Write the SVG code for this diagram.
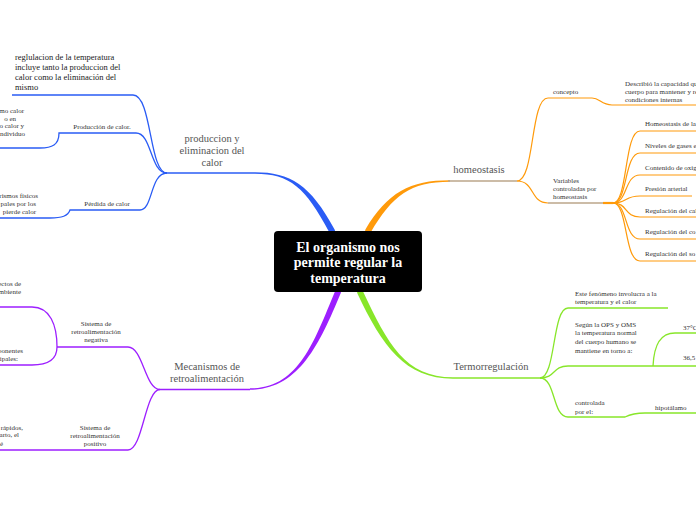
<svg xmlns="http://www.w3.org/2000/svg" width="696" height="520" viewBox="0 0 696 520">
<style>
.t{font-family:"Liberation Serif","Times New Roman",serif;font-size:7px;fill:#333}
.big{font-family:"Liberation Serif","Times New Roman",serif;font-size:10.5px;fill:#555;text-anchor:middle}
.top{font-family:"Liberation Serif","Times New Roman",serif;font-size:8.5px;fill:#222}
.title{font-family:"Liberation Serif","Times New Roman",serif;font-size:14px;font-weight:bold;fill:#fff;text-anchor:middle}
.m{text-anchor:middle}
.e{text-anchor:end}
.b{fill:none;stroke:#2a5cf5;stroke-width:1.3}
.o{fill:none;stroke:#ff9a0a;stroke-width:1.2}
.p{fill:none;stroke:#9d1fff;stroke-width:1.3}
.g{fill:none;stroke:#88e62a;stroke-width:1.3}
.tan{fill:none;stroke:#bba68a;stroke-width:1.4}
</style>
<g id="connectors">
<!-- main tapered branches -->
<path d="M338 240 L334.6 229.6 C310.6 184.6 290 172.25 255 172.25 L255 173.75 C290 173.75 305.4 187.4 329.4 232.4 L332 240 Z" fill="#2a5cf5"/>
<path d="M372 240 L370.6 232.5 C392.6 195.5 410 181.75 450 181.75 L450 180.25 C410 180.25 387.4 192.5 365.4 229.5 L363 240 Z" fill="#ff9a0a"/>
<path d="M342 284 L340.8 293.1 C318.8 346.1 298 389.75 250 389.75 L250 388.25 C298 388.25 313.2 343.9 335.2 290.9 L336 284 Z" fill="#9d1fff"/>
<path d="M362 284 L362.7 290.7 C387.7 343.7 405 377.25 453 377.25 L453 378.75 C405 378.75 382.3 346.3 357.3 293.3 L356 284 Z" fill="#88e62a"/>
<!-- blue -->
<path class="b" d="M255 173 L167 173"/>
<path class="b" d="M167 173 C149 173 152 95 133 95 L12 95"/>
<path class="b" d="M167 173 C150 173 152 133 136 133 L59 133 C59 145 52 148 40 148 L0 148"/>
<path class="b" d="M167 173 C150 173 153 210 140 210 L70 210 C68 216 62 218 50 218 L0 218"/>
<!-- purple -->
<path class="p" d="M250 389.5 L160 389.5"/>
<path class="p" d="M160 389.5 C145 389.5 143 347 128 347 L57 347"/>
<path class="p" d="M57 347 C57 325 50 307 32 307 L0 307"/>
<path class="p" d="M57 347 C57 358 50 365 32 365 L0 365"/>
<path class="p" d="M160 389.5 C145 389.5 143 450 128 450 L0 450"/>
<!-- orange -->
<path class="tan" d="M448 181 L517 181"/>
<path class="o" d="M517 181 C535 181 530 98 548 98 L592 98 C600 98 601 105 612 105 L696 105"/>
<path class="o" d="M517 181 C535 181 530 203 548 203"/>
<path class="tan" d="M548 203 L603 203"/>
<path d="M603 203 L613 203" stroke="#ff9a0a" stroke-width="2.2"/>
<path class="o" d="M613 203 C628 203 624 131 640 131 L696 131"/>
<path class="o" d="M613 203 C628 203 624 153 640 153 L696 153"/>
<path class="o" d="M613 203 C628 203 624 175 640 175 L696 175"/>
<path class="o" d="M613 203 C628 203 624 196 640 196 L692 196"/>
<path class="o" d="M613 203 C628 203 624 217 640 217 L696 217"/>
<path class="o" d="M613 203 C628 203 624 239 640 239 L696 239"/>
<path class="o" d="M613 203 C628 203 624 261 640 261 L696 261"/>
<!-- green -->
<path class="g" d="M453 378 L540 378"/>
<path class="g" d="M540 378 C556 378 552 308 568 308 L668 308"/>
<path class="g" d="M540 378 C556 378 552 366 568 366 L696 366"/>
<path class="g" d="M653 366 C654 345 660 333 675 333 L696 333"/>
<path class="g" d="M540 378 C556 378 552 417 568 417 L625 417 C631 414 636 413 645 413 L696 413"/>
</g>
<g id="center">
<rect x="274" y="231" width="148" height="61" rx="4" fill="#000"/>
<text class="title" x="348" y="251.5">El organismo nos</text>
<text class="title" x="348" y="267">permite regular la</text>
<text class="title" x="348" y="282.5">temperatura</text>
</g>
<g id="produccion">
<text class="big" x="212" y="142">produccion y</text>
<text class="big" x="212" y="154">eliminacion del</text>
<text class="big" x="212" y="166">calor</text>
</g>
<g id="reglulacion">
<text class="top" x="15" y="60">reglulacion de la temperatura</text>
<text class="top" x="15" y="70">incluye tanto la produccion del</text>
<text class="top" x="15" y="80">calor como la eliminación del</text>
<text class="top" x="15" y="90">mismo</text>
</g>
<g id="produccion-calor">
<text class="t m" x="102" y="128.5">Producción de calor.</text>
</g>
<g id="produccion-calor-detalle">
<text class="t e" x="24" y="112.5">mo calor</text>
<text class="t e" x="16" y="120.5">o en</text>
<text class="t e" x="24" y="128">o calor y</text>
<text class="t e" x="25" y="135.5">ndividuo</text>
</g>
<g id="perdida-calor">
<text class="t m" x="107" y="205.5">Pérdida de calor</text>
</g>
<g id="perdida-calor-detalle">
<text class="t e" x="38" y="197.5">rismos físicos</text>
<text class="t e" x="36" y="205.5">pales por los</text>
<text class="t e" x="36" y="213.5">pierde calor</text>
</g>
<g id="mecanismos">
<text class="big" x="207" y="370">Mecanismos de</text>
<text class="big" x="207" y="382">retroalimentación</text>
</g>
<g id="negativa">
<text class="t m" x="96" y="325.5">Sistema de</text>
<text class="t m" x="96" y="333.5">retroalimentación</text>
<text class="t m" x="96" y="341.5">negativa</text>
</g>
<g id="negativa-1">
<text class="t e" x="21" y="285.5">ectos de</text>
<text class="t e" x="21" y="293.5">mbiente</text>
</g>
<g id="negativa-2">
<text class="t e" x="23" y="352.5">ponentes</text>
<text class="t e" x="18" y="360.5">ipales:</text>
</g>
<g id="positivo">
<text class="t m" x="95" y="429.5">Sistema de</text>
<text class="t m" x="95" y="437.5">retroalimentación</text>
<text class="t m" x="95" y="445.5">positivo</text>
</g>
<g id="positivo-1">
<text class="t e" x="23" y="429.5">rápidos,</text>
<text class="t e" x="19" y="437">arto, el</text>
<text class="t e" x="3" y="445.5">é</text>
</g>
<g id="homeostasis">
<text class="big" x="479" y="173">homeostasis</text>
</g>
<g id="concepto">
<text class="t" x="553" y="93.5">concepto</text>
</g>
<g id="describio">
<text class="t" x="625" y="85.5">Describió la capacidad que</text>
<text class="t" x="625" y="93.5">cuerpo para mantener y re</text>
<text class="t" x="625" y="101.5">condiciones internas</text>
</g>
<g id="variables">
<text class="t" x="553" y="182.5">Variables</text>
<text class="t" x="553" y="190.5">controladas por</text>
<text class="t" x="553" y="199">homeostasis</text>
</g>
<g id="v1"><text class="t" x="645" y="125.5">Homeostasis de la</text></g>
<g id="v2"><text class="t" x="645" y="148">Niveles de gases e</text></g>
<g id="v3"><text class="t" x="645" y="169.5">Contenido de oxig</text></g>
<g id="v4"><text class="t" x="645" y="191">Presión arterial</text></g>
<g id="v5"><text class="t" x="645" y="212.5">Regulación del cal</text></g>
<g id="v6"><text class="t" x="645" y="234">Regulación del co</text></g>
<g id="v7"><text class="t" x="645" y="256">Regulación del so</text></g>
<g id="termorregulacion">
<text class="big" x="491" y="370">Termorregulación</text>
</g>
<g id="fenomeno">
<text class="t" x="575" y="295.5">Este fenómeno involucra a la</text>
<text class="t" x="575" y="303.5">temperatura y el calor</text>
</g>
<g id="segun">
<text class="t" x="575" y="326.5">Según la OPS y OMS</text>
<text class="t" x="575" y="335">la temperatura normal</text>
<text class="t" x="575" y="344">del cuerpo humano se</text>
<text class="t" x="575" y="352.5">mantiene en torno a:</text>
</g>
<g id="t37"><text class="t" x="683" y="329.5">37°C</text></g>
<g id="t365"><text class="t" x="683" y="359.5">36,5</text></g>
<g id="controlada">
<text class="t" x="575" y="404.5">controlada</text>
<text class="t" x="575" y="413.5">por el:</text>
</g>
<g id="hipotalamo"><text class="t" x="655" y="409.5">hipotálamo</text></g>
</svg>
